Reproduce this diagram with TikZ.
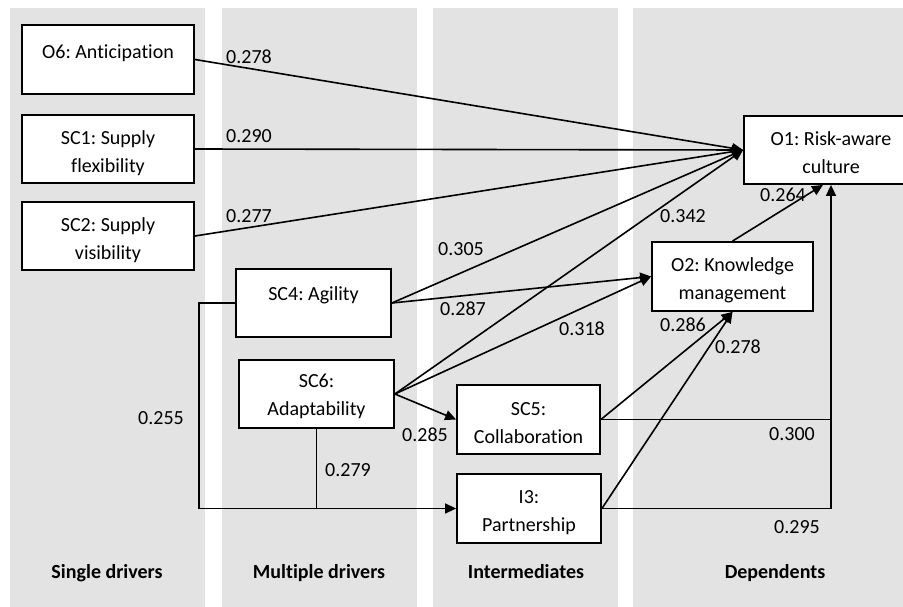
\documentclass[tikz,border=0pt]{standalone}
\usepackage{fontspec}
\setmainfont{Carlito}[Ligatures={NoCommon}]
\usetikzlibrary{arrows.meta}
\definecolor{colbg}{RGB}{227,227,227}
\newcommand{\topht}[1]{\rule{0pt}{#1pt}}
\tikzset{
  box/.style={draw, line width=1.8pt, fill=white, align=center, inner sep=0pt, font=\fontsize{20}{28}\selectfont\frenchspacing},
  lbl/.style={font=\fontsize{20}{24}\selectfont, inner sep=0pt},
  head/.style={font=\fontsize{20}{24}\selectfont\bfseries, inner sep=0pt, anchor=base},
  conn/.style={line width=1.6pt},
  arr/.style={line width=1.6pt, -{Triangle[length=11pt,width=10pt]}},
}
\begin{document}
\begin{tikzpicture}[x=1pt,y=-1pt]
\useasboundingbox (0,0) rectangle (903,607);
\clip (0,0) rectangle (903,607);
% columns
\fill[colbg] (10,8) rectangle (205,607);
\fill[colbg] (222,8) rectangle (417,607);
\fill[colbg] (433,8) rectangle (618,607);
\fill[colbg] (633,8) rectangle (903,607);
% boxes
\node[box, minimum width=172pt, minimum height=69pt] (O6) at (108,59.5) {\topht{26}O6: Anticipation\\~};
\node[box, minimum width=172pt, minimum height=68pt] (SC1) at (108,149) {\topht{22}SC1: Supply\\flexibility};
\node[box, minimum width=172pt, minimum height=68pt] (SC2) at (108,236) {\topht{22}SC2: Supply\\visibility};
\node[box, minimum width=155pt, minimum height=68pt] (SC4) at (313.5,303) {\topht{22}SC4: Agility\\~};
\node[box, minimum width=155pt, minimum height=68pt] (SC6) at (316.5,394) {\topht{19}SC6:\\Adaptability};
\node[box, minimum width=143pt, minimum height=69pt] (SC5) at (528.5,419.5) {\topht{21}SC5:\\Collaboration};
\node[box, minimum width=144pt, minimum height=69pt] (I3) at (529,508.5) {\topht{22}I3:\\Partnership};
\node[box, minimum width=174pt, minimum height=68pt] (O1) at (831,150) {\topht{19}O1: Risk-aware\\culture};
\node[box, minimum width=161pt, minimum height=69pt] (O2) at (732.5,276.5) {\topht{21}O2: Knowledge\\management};
% connectors
\draw[arr] (O6.east) -- (O1.west);
\draw[arr] (SC1.east) -- (O1.west);
\draw[arr] (SC2.east) -- (O1.west);
\draw[arr] (SC4.east) -- (O1.west);
\draw[arr] (SC4.east) -- (O2.west);
\draw[arr] (SC6.east) -- (O1.west);
\draw[arr] (SC6.east) -- (O2.west);
\draw[arr] (SC6.east) -- (SC5.west);
\draw[arr] (SC5.east) -- (O2.south);
\draw[arr] (I3.east) -- (O2.south);
\draw[arr] (O2.north) -- ([xshift=-8pt]O1.south);
\draw[arr] (SC5.east) -| (O1.south);
\draw[conn] (I3.east) -| (SC5.east -| O1.south);
\draw[arr] (SC4.west) -- ++(-36,0) |- (I3.west);
\draw[conn] (SC6.south) -- (SC6.south |- I3.west);
% labels
\node[lbl] (l1) at (249,57) {0.278};
\node[lbl] (l2) at (249,136) {0.290};
\node[lbl] (l3) at (249,216) {0.277};
\node[lbl] (l4) at (461,249) {0.305};
\node[lbl] (l5) at (463,309) {0.287};
\node[lbl] (l6) at (683,216) {0.342};
\node[lbl] (l7) at (783,195) {0.264};
\node[lbl] (l8) at (582,329) {0.318};
\node[lbl] (l9) at (683,325) {0.286};
\node[lbl] (l10) at (738,347) {0.278};
\node[lbl] (l11) at (425,435) {0.285};
\node[lbl] (l12) at (161,418) {0.255};
\node[lbl] (l13) at (348,470) {0.279};
\node[lbl] (l14) at (792,434) {0.300};
\node[lbl] (l15) at (797,527) {0.295};
% column headings
\node[head] (h1) at (107,578) {Single drivers};
\node[head] (h2) at (319,578) {Multiple drivers};
\node[head] (h3) at (526,578) {Intermediates};
\node[head] (h4) at (775,578) {Dependents};
\end{tikzpicture}
\end{document}
